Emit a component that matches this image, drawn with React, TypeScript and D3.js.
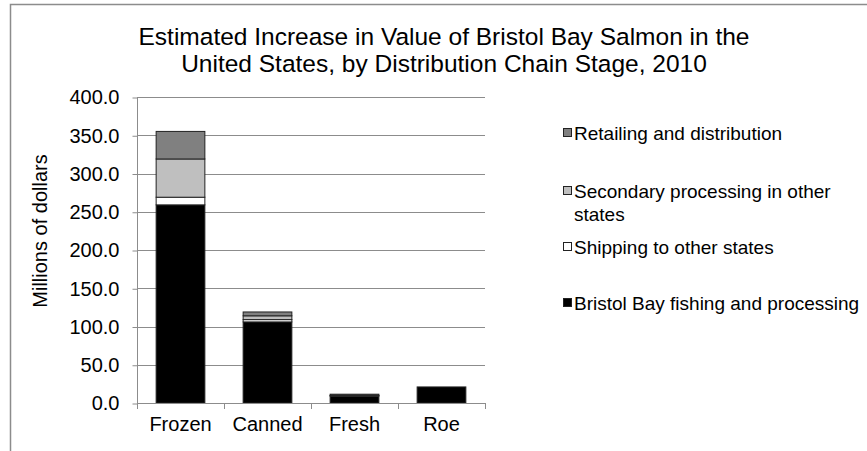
import React, { useEffect, useRef } from 'react';
import * as d3 from 'd3';

const categories = ['Frozen', 'Canned', 'Fresh', 'Roe'];
const bristolBay = [259, 106, 9, 21];
const shipping = [10, 3, 0.5, 0];
const secondary = [50, 5, 0.5, 0];
const retailing = [36, 5, 1.5, 0];
const yTicks = [0, 50, 100, 150, 200, 250, 300, 350, 400];
const colors = ['#000000', '#ffffff', '#bfbfbf', '#808080'];

const App = () => {
  const ref = useRef<SVGSVGElement>(null);

  useEffect(() => {
    const svg = d3.select(ref.current);
    svg.selectAll('*').remove();
    const font = 'Liberation Sans, Arial, sans-serif';

    // outer frame (only top and left edges visible)
    svg.append('path')
      .attr('d', 'M10.5,451 L10.5,4.5 L867,4.5')
      .attr('fill', 'none')
      .attr('stroke', '#8c8c8c')
      .attr('stroke-width', 1.5);

    // title
    const title = svg.append('text')
      .attr('text-anchor', 'middle')
      .style('font-family', font)
      .style('font-size', '24.5px')
      .attr('fill', '#000');
    title.append('tspan').attr('x', 444).attr('y', 45)
      .text('Estimated Increase in Value of Bristol Bay Salmon in the');
    title.append('tspan').attr('x', 444).attr('y', 72)
      .text('United States, by Distribution Chain Stage, 2010');

    const x = d3.scaleBand().domain(categories).range([137, 485]).paddingInner(0.44).paddingOuter(0.22);
    const y = d3.scaleLinear().domain([0, 400]).range([403, 97]);

    const rows = categories.map((c, i) => ({
      cat: c,
      s0: bristolBay[i], s1: shipping[i], s2: secondary[i], s3: retailing[i],
    }));
    const stack = d3.stack<any>().keys(['s0', 's1', 's2', 's3'])(rows);

    // gridlines
    svg.append('g').selectAll('line').data(yTicks.slice(1)).enter().append('line')
      .attr('x1', 137).attr('x2', 485)
      .attr('y1', d => Math.round(y(d)) + 0.5).attr('y2', d => Math.round(y(d)) + 0.5)
      .attr('stroke', '#8c8c8c').attr('stroke-width', 1);

    // y axis
    const yAxis = svg.append('g').attr('transform', 'translate(137.5,0.5)')
      .call(d3.axisLeft(y).tickValues(yTicks).tickSize(5).tickFormat(d3.format('.1f')) as any);
    yAxis.select('.domain').attr('stroke', '#8c8c8c').attr('d', `M0,${y(400)}V${y(0)}`);
    yAxis.selectAll('.tick line').attr('stroke', '#8c8c8c');
    yAxis.selectAll('.tick text')
      .attr('x', -18)
      .style('font-family', font).style('font-size', '20px').attr('fill', '#000');

    // bars
    stack.forEach((layer, k) => {
      svg.append('g').selectAll('rect').data(layer).enter().append('rect')
        .attr('x', d => x(d.data.cat) as number)
        .attr('width', x.bandwidth())
        .attr('y', d => y(d[1]))
        .attr('height', d => Math.max(0, y(d[0]) - y(d[1])))
        .attr('fill', colors[k])
        .attr('stroke', d => (d[1] - d[0] > 0 ? '#222' : 'none'))
        .attr('stroke-width', 1);
    });

    // x axis
    svg.append('line').attr('x1', 137).attr('x2', 485)
      .attr('y1', 403.5).attr('y2', 403.5).attr('stroke', '#8c8c8c');
    const bounds = d3.range(categories.length + 1).map(i => 137 + i * (348 / categories.length));
    svg.append('g').selectAll('line').data(bounds).enter().append('line')
      .attr('x1', d => Math.round(d) + 0.5).attr('x2', d => Math.round(d) + 0.5)
      .attr('y1', 403).attr('y2', 409).attr('stroke', '#8c8c8c');
    svg.append('g').selectAll('text').data(categories).enter().append('text')
      .attr('x', d => (x(d) as number) + x.bandwidth() / 2)
      .attr('y', 431)
      .attr('text-anchor', 'middle')
      .style('font-family', font).style('font-size', '20px')
      .text(d => d);

    // y axis label
    svg.append('text')
      .attr('transform', 'translate(47,231) rotate(-90)')
      .attr('text-anchor', 'middle')
      .style('font-family', font).style('font-size', '20px')
      .text('Millions of dollars');

    // legend
    const legendItems = [
      { k: 3, lines: ['Retailing and distribution'], y: 133 },
      { k: 2, lines: ['Secondary processing in other', 'states'], y: 191 },
      { k: 1, lines: ['Shipping to other states'], y: 247 },
      { k: 0, lines: ['Bristol Bay fishing and processing'], y: 303 },
    ];
    const lg = svg.append('g');
    legendItems.forEach(it => {
      lg.append('rect')
        .attr('x', 563.5).attr('y', it.y - 4.5)
        .attr('width', 8).attr('height', 8)
        .attr('fill', colors[it.k]).attr('stroke', '#222');
      const t = lg.append('text')
        .style('font-family', font).style('font-size', '19px');
      it.lines.forEach((l, j) => {
        t.append('tspan').attr('x', 574).attr('y', it.y + 7 + j * 23).text(l);
      });
    });
  }, []);

  return (
    <svg ref={ref} width={867} height={451}
      style={{ position: 'absolute', left: 0, top: 0, background: '#fff' }} />
  );
};

export default App;
